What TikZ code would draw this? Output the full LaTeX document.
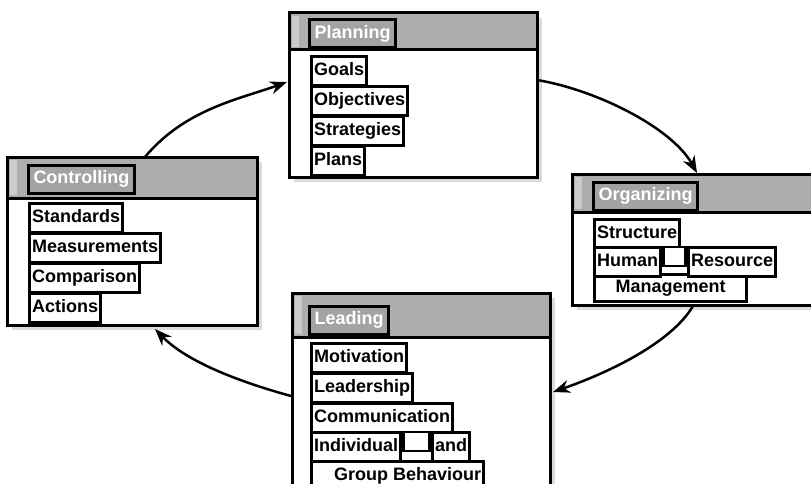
\documentclass[tikz,border=0pt]{standalone}
\usepackage{fontspec}
\setmainfont{Liberation Sans}
\usetikzlibrary{arrows.meta}

\definecolor{hdrgray}{gray}{0.68}
\definecolor{stripgray}{gray}{0.80}
\definecolor{shadowgray}{gray}{0.86}
\definecolor{tabgray}{gray}{0.64}

\newcommand\boxfont{\fontsize{18}{21}\selectfont\bfseries}

% panel: #1,#2 = top-left, #3,#4 = bottom-right, #5 = y of header rule
\newcommand\panelbox[5]{%
  \fill[shadowgray] (#1+5,#2+5) rectangle (#3+5,#4+5);
  \fill[white] (#1,#2) rectangle (#3,#4);
  \fill[hdrgray] (#1,#2) rectangle (#3,#5);
  \fill[stripgray] (#1+3,#2+3) rectangle (#1+10,#5-3);
  \draw[line width=3pt] (#1,#5) -- (#3,#5);
  \draw[line width=3pt] (#1,#2) rectangle (#3,#4);
}

\tikzset{
  tab/.style={draw=black, line width=3pt, fill=tabgray, text=white,
    font=\boxfont, inner xsep=5pt, inner ysep=0pt, minimum height=28pt,
    anchor=west, text height=13pt, text depth=4pt},
  item/.style={draw=black, line width=3.3pt, fill=white, text=black,
    font=\boxfont, inner xsep=2.5pt, inner ysep=0pt, minimum height=29pt,
    anchor=west, text height=13pt, text depth=4pt},
  gapbox/.style={draw=black, line width=2.6pt, fill=white, anchor=north west,
    minimum width=22pt, minimum height=19pt, inner sep=0pt},
  flow/.style={line width=2.5pt, -{Stealth[length=17pt,width=13pt]}},
}

\begin{document}
\begin{tikzpicture}[x=1pt, y=-1pt]
\useasboundingbox (0,0) rectangle (811,484);
\clip (0,0) rectangle (811,484);

% ---- Planning ----
\panelbox{289}{13}{537}{177}{50}
\node[tab] (plan) at (308,34) {Planning};
\node[item] (goals) at (310,71) {Goals};
\node[item] (objs) at (310,101) {Objectives};
\node[item] (strat) at (310,131) {Strategies};
\node[item] (plans) at (310,161) {Plans};

% ---- Controlling ----
\panelbox{7}{157}{257}{325}{198}
\node[tab] (ctrl) at (27,179) {Controlling};
\node[item] (stds) at (28,218) {Standards};
\node[item] (meas) at (28,248) {Measurements};
\node[item] (comp) at (28,278) {Comparison};
\node[item] (acts) at (28,308) {Actions};

% ---- Organizing ----
\panelbox{572}{174}{840}{305}{212}
\node[tab] (org) at (592,196) {Organizing};
\node[item] (struct) at (593,234) {Structure};
\node[item, minimum width=152pt, minimum height=27pt] (mgmt) at (593,288) {Management};
\node[item] (human) at (593,262) {Human};
\node[gapbox] (orggap) at (human.north east) {};
\node[item, anchor=north west] (res) at (orggap.north east) {Resource};

% ---- Leading ----
\panelbox{292}{293}{550}{520}{337}
\node[tab] (lead) at (308,320) {Leading};
\node[item] (motiv) at (310,358) {Motivation};
\node[item] (lship) at (310,388) {Leadership};
\node[item] (comm) at (310,418) {Communication};
\node[item] (group) at (310,476) {\hspace*{20pt}Group Behaviour};
\node[item] (indiv) at (310,447) {Individual};
\node[gapbox, minimum width=26pt] (leadgap) at (indiv.north east) {};
\node[item, anchor=north west] (andw) at (leadgap.north east) {and};

% ---- cycle connectors ----
\coordinate (ctrl-top) at (145,157);
\coordinate (plan-left) at (287,82);
\coordinate (plan-right) at (537,80);
\coordinate (org-top) at (697,173);
\coordinate (org-bottom) at (693,306);
\coordinate (lead-right) at (553,392);
\coordinate (lead-left) at (291,396);
\coordinate (ctrl-bottom) at (155,329);

\draw[flow] (ctrl-top) .. controls (185,109) and (240,99) .. (plan-left);
\draw[flow] (plan-right) .. controls (597,90) and (672,128) .. (org-top);
\draw[flow] (org-bottom) .. controls (670,345) and (602,375) .. (lead-right);
\draw[flow] (lead-left) .. controls (240,382) and (187,362) .. (ctrl-bottom);
\end{tikzpicture}
\end{document}
